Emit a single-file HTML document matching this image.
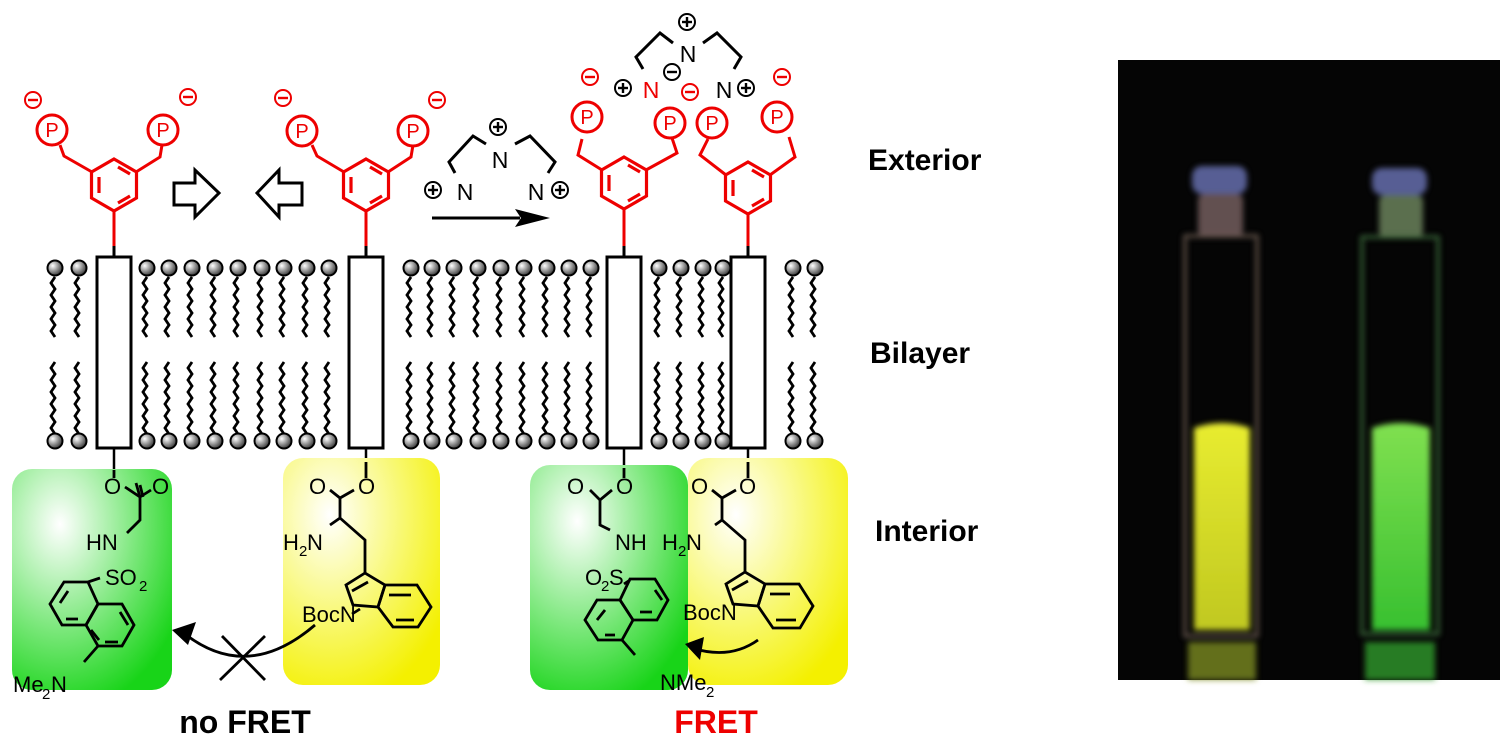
<!DOCTYPE html>
<html><head><meta charset="utf-8"><style>
html,body{margin:0;padding:0;background:#fff;}
svg{display:block;}
text{font-family:"Liberation Sans",Arial,sans-serif;}
</style></head><body>
<svg width="1502" height="753" viewBox="0 0 1502 753" xmlns="http://www.w3.org/2000/svg">
<defs>
<radialGradient id="hg" cx="0.35" cy="0.35" r="0.7"><stop offset="0" stop-color="#fff"/><stop offset="0.5" stop-color="#999"/><stop offset="1" stop-color="#333"/></radialGradient>
<radialGradient id="gg" cx="0.3" cy="0.25" r="0.85"><stop offset="0" stop-color="#fff"/><stop offset="0.55" stop-color="#7ee87e"/><stop offset="1" stop-color="#18d418"/></radialGradient>
<radialGradient id="yg" cx="0.3" cy="0.25" r="0.85"><stop offset="0" stop-color="#fff"/><stop offset="0.55" stop-color="#f8f870"/><stop offset="1" stop-color="#f4f000"/></radialGradient>
<linearGradient id="liqY" x1="0" y1="0" x2="0" y2="1"><stop offset="0" stop-color="#e8ec30"/><stop offset="1" stop-color="#c0c820"/></linearGradient>
<linearGradient id="liqG" x1="0" y1="0" x2="0" y2="1"><stop offset="0" stop-color="#80e050"/><stop offset="1" stop-color="#38c030"/></linearGradient>
<filter id="blur"><feGaussianBlur stdDeviation="3"/></filter>
<g id="lip">
<circle cx="0" cy="268" r="7.5" fill="url(#hg)" stroke="#000" stroke-width="2"/>
<path d="M0,277 l-4,6 l4,6 l-4,6 l4,6 l-4,6 l4,6 l-4,6 l4,6 l-4,6 l4,6" fill="none" stroke="#000" stroke-width="2.8"/>
<path d="M0,362 l-4,6 l4,6 l-4,6 l4,6 l-4,6 l4,6 l-4,6 l4,6 l-4,6 l4,6 l-4,6 l4,6" fill="none" stroke="#000" stroke-width="2.8"/>
<circle cx="0" cy="441" r="7.5" fill="url(#hg)" stroke="#000" stroke-width="2"/>
</g>
<g id="minus"><circle r="8" fill="none" stroke="#e00" stroke-width="2"/><line x1="-5" y1="0" x2="5" y2="0" stroke="#e00" stroke-width="2.4"/></g>
<g id="plus"><circle r="8" fill="none" stroke="#000" stroke-width="2"/><line x1="-5" y1="0" x2="5" y2="0" stroke="#000" stroke-width="2.4"/><line x1="0" y1="-5" x2="0" y2="5" stroke="#000" stroke-width="2.4"/></g>
<g id="hex" fill="none" stroke="#e00" stroke-width="3.2">
<polygon points="0,-26 22.5,-13 22.5,13 0,26 -22.5,13 -22.5,-13"/>
<line x1="-15" y1="-8" x2="-15" y2="8"/><line x1="4" y1="-18" x2="16" y2="-11"/><line x1="4" y1="18" x2="16" y2="11"/>
</g>
<g id="pc"><circle r="15" fill="#fff" stroke="#e00" stroke-width="3"/><text x="0" y="7" font-size="20" fill="#e00" text-anchor="middle">P</text></g>
</defs>

<g>
<use href="#lip" x="55"/><use href="#lip" x="79"/>
<use href="#lip" x="147"/><use href="#lip" x="169"/><use href="#lip" x="192"/><use href="#lip" x="215"/><use href="#lip" x="238"/><use href="#lip" x="262"/><use href="#lip" x="284"/><use href="#lip" x="307"/><use href="#lip" x="329"/>
<use href="#lip" x="411"/><use href="#lip" x="432"/><use href="#lip" x="454"/><use href="#lip" x="478"/><use href="#lip" x="501"/><use href="#lip" x="524"/><use href="#lip" x="547"/><use href="#lip" x="569"/><use href="#lip" x="591"/>
<use href="#lip" x="659"/><use href="#lip" x="681"/><use href="#lip" x="703"/><use href="#lip" x="723"/>
<use href="#lip" x="793"/><use href="#lip" x="815"/>
</g>

<g stroke-width="3" fill="none">
<line x1="114" y1="211" x2="114" y2="246" stroke="#e00"/><line x1="114" y1="246" x2="114" y2="257" stroke="#000"/>
<rect x="97" y="257" width="34" height="191" fill="#fff" stroke="#000"/>
<line x1="114" y1="448" x2="114" y2="470" stroke="#000" stroke-width="2.5"/>
<use href="#hex" x="114" y="185"/>
<path d="M92,172 L64,156 L60,145 M136,172 L160,157 L162,145" stroke="#e00"/>
<line x1="366" y1="211" x2="366" y2="246" stroke="#e00"/><line x1="366" y1="246" x2="366" y2="257" stroke="#000"/>
<rect x="349" y="257" width="34" height="191" fill="#fff" stroke="#000"/>
<line x1="366" y1="448" x2="366" y2="462" stroke="#000" stroke-width="2.5"/>
<use href="#hex" x="366" y="185"/>
<path d="M344,172 L317,156 L312,145 M388,172 L411,157 L413,145" stroke="#e00"/>
<line x1="624" y1="209" x2="624" y2="246" stroke="#e00"/><line x1="624" y1="246" x2="624" y2="257" stroke="#000"/>
<rect x="607" y="257" width="34" height="191" fill="#fff" stroke="#000"/>
<line x1="624" y1="448" x2="624" y2="468" stroke="#000" stroke-width="2.5"/>
<use href="#hex" x="624" y="183"/>
<path d="M602,170 L578,155 L582,139 M646,170 L677,153 L672,138" stroke="#e00"/>
<line x1="748" y1="214" x2="748" y2="246" stroke="#e00"/><line x1="748" y1="246" x2="748" y2="257" stroke="#000"/>
<rect x="731" y="257" width="34" height="191" fill="#fff" stroke="#000"/>
<line x1="748" y1="448" x2="748" y2="462" stroke="#000" stroke-width="2.5"/>
<use href="#hex" x="748" y="188"/>
<path d="M726,175 L700,155 L708,139 M770,175 L795,157 L789,137" stroke="#e00"/>
</g>
<use href="#pc" x="52" y="130"/><use href="#pc" x="163" y="130"/>
<use href="#pc" x="302" y="131"/><use href="#pc" x="413" y="131"/>
<use href="#pc" x="587" y="117"/><use href="#pc" x="670" y="123"/>
<use href="#pc" x="712" y="123"/><use href="#pc" x="777" y="117"/>
<use href="#minus" x="33" y="100"/><use href="#minus" x="188" y="97"/>
<use href="#minus" x="283" y="98"/><use href="#minus" x="437" y="100"/>
<use href="#minus" x="590" y="77"/><use href="#minus" x="690" y="92"/><use href="#minus" x="782" y="77"/>

<path d="M174,183 L195,183 L195,170 L219,193 L195,217 L195,205 L174,205 Z" fill="#fff" stroke="#000" stroke-width="3"/>
<path d="M302,183 L279,183 L279,170 L257,193 L279,217 L279,205 L302,205 Z" fill="#fff" stroke="#000" stroke-width="3"/>

<g fill="none" stroke="#000" stroke-width="3">
<path d="M486,144 L473,136 L449,162 L455,173"/>
<path d="M515,144 L530,136 L555,162 L548,173"/>
<line x1="432" y1="218" x2="520" y2="218"/>
</g>
<polygon points="515,209 550,218 515,227 521,218" fill="#000"/>
<text x="500" y="168" font-size="23" text-anchor="middle">N</text>
<text x="465" y="200" font-size="23" text-anchor="middle">N</text>
<text x="536" y="200" font-size="23" text-anchor="middle">N</text>
<use href="#plus" x="498" y="127"/><use href="#plus" x="433" y="190"/><use href="#plus" x="560" y="190"/>

<g fill="none" stroke="#000" stroke-width="3">
<path d="M673,43 L660,33 L636,57 L643,69"/>
<path d="M703,43 L717,33 L741,57 L734,69"/>
</g>
<text x="688" y="62" font-size="23" text-anchor="middle">N</text>
<text x="651" y="98" font-size="23" text-anchor="middle" fill="#e00">N</text>
<text x="724" y="98" font-size="23" text-anchor="middle">N</text>
<use href="#plus" x="687" y="22"/><use href="#plus" x="623" y="88"/><use href="#plus" x="746" y="88"/>
<g><circle cx="672" cy="72" r="8" fill="none" stroke="#000" stroke-width="2"/><line x1="667" y1="72" x2="677" y2="72" stroke="#000" stroke-width="2.4"/></g>

<text x="868" y="170" font-size="30" font-weight="bold">Exterior</text>
<text x="870" y="363" font-size="30" font-weight="bold">Bilayer</text>
<text x="875" y="541" font-size="30" font-weight="bold">Interior</text>

<rect x="12" y="469" width="160" height="221" rx="20" fill="url(#gg)"/>
<rect x="283" y="458" width="157" height="227" rx="20" fill="url(#yg)"/>
<rect x="530" y="465" width="158" height="225" rx="20" fill="url(#gg)"/>
<rect x="688" y="458" width="160" height="227" rx="20" fill="url(#yg)"/>

<g font-size="22" fill="#000">
<text x="104" y="494">O</text><text x="152" y="494">O</text>
<text x="86" y="550">HN</text>
<text x="105" y="585">SO</text><text x="139" y="591" font-size="15">2</text>
<text x="13" y="692">Me</text><text x="42" y="699" font-size="15">2</text><text x="51" y="692">N</text>
<text x="309" y="494">O</text><text x="358" y="494">O</text>
<text x="283" y="550">H</text><text x="299" y="556" font-size="15">2</text><text x="307" y="550">N</text>
<text x="302" y="622">BocN</text>
<text x="567" y="494">O</text><text x="616" y="494">O</text>
<text x="615" y="550">NH</text>
<text x="662" y="550">H</text><text x="678" y="556" font-size="15">2</text><text x="686" y="550">N</text>
<text x="585" y="585">O</text><text x="601" y="591" font-size="15">2</text><text x="609" y="585">S</text>
<text x="660" y="690">NMe</text><text x="706" y="697" font-size="15">2</text>
<text x="691" y="494">O</text><text x="739" y="494">O</text>
<text x="683" y="620">BocN</text>
</g>

<g fill="none" stroke="#000" stroke-width="2.8">
<path d="M114,470 L114,478 M125,487 L140,497 L151,490 M140,497 L136,483 M143,497 L140,485 M140,497 L140,520 L127,533"/>
<path d="M88,582 L100,578"/>
<polygon points="88,582 64,582 50,604 62,625 86,625 98,604"/>
<polygon points="98,604 86,625 98,646 122,646 134,625 122,604"/>
<path d="M60,603 L68,591 M78,619 L66,619 M91,630 L99,640 M120,612 L128,625 M105,642 L118,642"/>
<path d="M98,646 L84,662"/>
<path d="M366,462 L366,478 M354,490 L340,498 L330,490 M340,498 L340,518 L330,525 M340,518 L365,540 L365,573"/>
<polygon points="365,573 346,585 353,605 378,607 385,585"/>
<polygon points="385,585 378,607 393,627 418,627 431,607 417,585"/>
<path d="M352,591 L368,582 M396,620 L414,620 M389,595 L411,595"/>
<path d="M360,609 L352,614"/>
<path d="M315,625 Q245,685 180,630"/>
<path d="M222,636 L265,680 M220,680 L265,636"/>
<path d="M624,468 L624,478 M612,490 L600,500 L590,490 M600,500 L600,525 L610,530"/>
<path d="M624,584 L630,580"/>
<polygon points="630,579 655,579 668,600 657,620 633,620 620,600"/>
<polygon points="620,600 633,620 622,640 598,640 585,620 597,600"/>
<path d="M655,590 L662,600 M640,612 L652,612 M597,620 L605,610 M605,635 L615,635"/>
<path d="M622,640 L635,655"/>
<path d="M748,462 L748,478 M736,490 L722,498 L712,490 M722,498 L722,520 L715,525 M722,520 L745,540 L745,572"/>
<polygon points="745,572 726,584 733,604 758,606 765,584"/>
<polygon points="765,584 758,606 773,628 800,628 813,606 799,584"/>
<path d="M732,590 L748,581 M776,620 L796,620 M770,594 L790,594"/>
<path d="M758,640 Q730,660 692,648"/>
</g>
<polygon points="172,630 196,622 188,645" fill="#000"/>
<polygon points="685,644 704,637 700,660" fill="#000"/>

<text x="245" y="733" font-size="32" font-weight="bold" text-anchor="middle">no FRET</text>
<text x="716" y="733" font-size="32" font-weight="bold" text-anchor="middle" fill="#e00">FRET</text>

<rect x="1118" y="60" width="382" height="620" fill="#050505"/>
<g filter="url(#blur)">
<rect x="1192" y="166" width="55" height="28" rx="10" fill="#6a74b8" opacity="0.8"/>
<rect x="1198" y="194" width="45" height="42" rx="6" fill="#8a7070" opacity="0.7"/>
<rect x="1185" y="236" width="72" height="400" fill="none" stroke="#6a5a50" stroke-width="3"/>
<path d="M1194,428 Q1222,418 1250,428 L1250,630 L1194,630 Z" fill="url(#liqY)"/>
<rect x="1188" y="642" width="68" height="38" fill="#7a8a20" opacity="0.8"/>
<rect x="1372" y="168" width="55" height="27" rx="10" fill="#6a74b8" opacity="0.8"/>
<rect x="1379" y="195" width="44" height="42" rx="6" fill="#708a60" opacity="0.8"/>
<rect x="1362" y="237" width="76" height="397" fill="none" stroke="#3a6a3a" stroke-width="3"/>
<path d="M1372,428 Q1400,418 1430,428 L1430,630 L1372,630 Z" fill="url(#liqG)"/>
<rect x="1365" y="642" width="70" height="38" fill="#309a2a" opacity="0.8"/>
</g>
</svg>
</body></html>
